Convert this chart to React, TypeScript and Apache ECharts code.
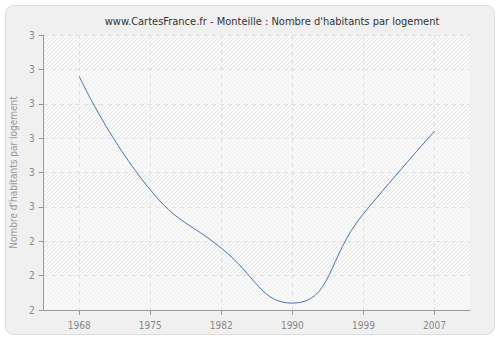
import React, { useEffect, useRef } from "react";
import * as echarts from "echarts";

const titleText = "www.CartesFrance.fr - Monteille : Nombre d'habitants par logement";
const yAxisName = "Nombre d'habitants par logement";
const years = ["1968", "1975", "1982", "1990", "1999", "2007"];
const values = [2.88, 2.55, 2.38, 2.22, 2.48, 2.72];
const yMin = 2.2;
const yMax = 3.0;
const yStep = 0.1;

const FONT = "'DejaVu Sans Condensed', 'DejaVu Sans', sans-serif";

function makeHatch(): HTMLCanvasElement {
  const c = document.createElement("canvas");
  c.width = 4;
  c.height = 4;
  const ctx = c.getContext("2d")!;
  ctx.fillStyle = "#f9f9f9";
  ctx.fillRect(0, 0, 4, 4);
  ctx.strokeStyle = "#e6e6e6";
  ctx.lineWidth = 1;
  ctx.beginPath();
  ctx.moveTo(-1, 5);
  ctx.lineTo(5, -1);
  ctx.moveTo(-1, 1);
  ctx.lineTo(1, -1);
  ctx.moveTo(3, 5);
  ctx.lineTo(5, 3);
  ctx.stroke();
  return c;
}

export default function App() {
  const ref = useRef<HTMLDivElement>(null);
  useEffect(() => {
    if (!ref.current) return;
    const chart = echarts.init(ref.current, undefined, { renderer: "svg" });
    const hatch = makeHatch();
    chart.setOption({
      animation: false,
      backgroundColor: "#ffffff",
      graphic: [
        {
          type: "rect",
          z: -10,
          silent: true,
          shape: { x: 5.5, y: 5.5, width: 489, height: 329, r: 8 },
          style: { fill: "#f0f0f0", stroke: "#dddddd", lineWidth: 1 },
        },
      ],
      title: {
        text: titleText,
        left: 267,
        top: 11,
        textAlign: "center",
        textStyle: { fontFamily: FONT, fontSize: 11, fontWeight: "normal", color: "#333333" },
      },
      grid: {
        left: 40,
        right: 30,
        top: 35,
        bottom: 30,
        show: true,
        borderWidth: 0,
        backgroundColor: { image: hatch, repeat: "repeat", imageWidth: 4, imageHeight: 4 } as any,
      },
      xAxis: {
        type: "category",
        data: years,
        boundaryGap: true,
        axisLine: { show: true, lineStyle: { color: "#999999", width: 1 } },
        axisTick: { show: true, alignWithLabel: true, length: 5, lineStyle: { color: "#999999" } },
        axisLabel: { fontFamily: FONT, fontSize: 10, color: "#888888", margin: 10 },
        splitLine: { show: true, alignWithLabel: true, lineStyle: { color: "#e0e0e0", type: [4, 4] } } as any,
      },
      yAxis: {
        type: "value",
        min: yMin,
        max: yMax,
        interval: yStep,
        name: yAxisName,
        nameLocation: "middle",
        nameGap: 22,
        nameTextStyle: { fontFamily: FONT, fontSize: 10, color: "#999999" },
        axisLine: { show: true, lineStyle: { color: "#999999", width: 1 } },
        axisTick: { show: true, length: 5, lineStyle: { color: "#999999" } },
        axisLabel: {
          fontFamily: FONT,
          fontSize: 10,
          color: "#888888",
          margin: 9,
          formatter: (v: number) => String(Math.round(Math.round(v * 10) / 10)),
        },
        splitLine: { show: true, lineStyle: { color: "#e0e0e0", type: [4, 4] } },
        splitArea: { show: true, areaStyle: { color: ["rgba(250,250,250,0.5)", "rgba(250,250,250,0)"] } },
      },
      series: [
        {
          type: "line",
          data: values,
          smooth: 0.5,
          symbol: "none",
          lineStyle: { color: "#4a74ab", width: 1 },
        },
      ],
    });
    return () => chart.dispose();
  }, []);
  return (
    <div
      ref={ref}
      style={{ position: "fixed", left: 0, top: 0, width: 500, height: 340 }}
    />
  );
}
